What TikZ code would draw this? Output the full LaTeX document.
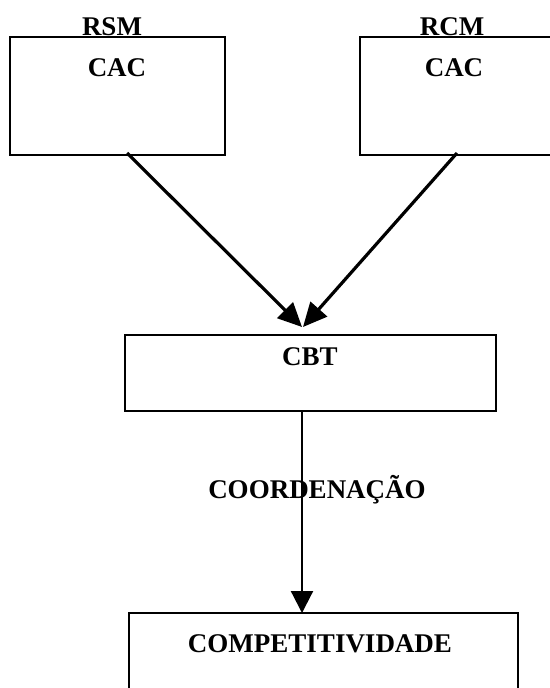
\documentclass[tikz,border=0pt]{standalone}
\usepackage{fontspec}
\setmainfont{Liberation Serif}
\usetikzlibrary{arrows.meta}
\begin{document}
\begin{tikzpicture}[x=1pt,y=-1pt,
  box/.style={draw,line width=2.8pt,inner sep=0pt},
  lbl/.style={font=\fontsize{27}{30}\selectfont\bfseries,inner sep=0pt,anchor=base},
  arr/.style={line width=3.2pt,-{Triangle[length=24pt,width=22pt]}},
  varr/.style={line width=2.2pt,-{Triangle[length=22pt,width=22pt]}}]
\useasboundingbox (0,0) rectangle (549,688);
% boxes
\node[box,minimum width=215pt,minimum height=118pt] (lbox) at (117.5,96) {};
\node[box,minimum width=192pt,minimum height=118pt] (rbox) at (456,96) {};
\node[box,minimum width=371pt,minimum height=76pt] (cbt) at (310.5,373) {};
\node[box,minimum width=389pt,minimum height=87pt] (comp) at (323.5,656.5) {};
% labels
\node[lbl] (rsm) at (112,35) {RSM};
\node[lbl] (rcm) at (452,35) {RCM};
\node[lbl] (cacl) at (117,76) {CAC};
\node[lbl] (cacr) at (454,76) {CAC};
\node[lbl] (cbtt) at (310,365) {CBT};
\node[lbl] (coord) at (317,498) {COORDENAÇÃO};
\node[lbl] (compt) at (320,652) {COMPETITIVIDADE};
% connectors
\coordinate (sL) at (127,153);
\coordinate (tL) at (302,327);
\coordinate (sR) at (457,153);
\coordinate (tR) at (303,327);
\coordinate (sV) at (302,411);
\coordinate (tV) at (302,613);
\draw[arr] (sL) -- (tL);
\draw[arr] (sR) -- (tR);
\draw[varr] (sV) -- (tV);
\end{tikzpicture}
\end{document}
